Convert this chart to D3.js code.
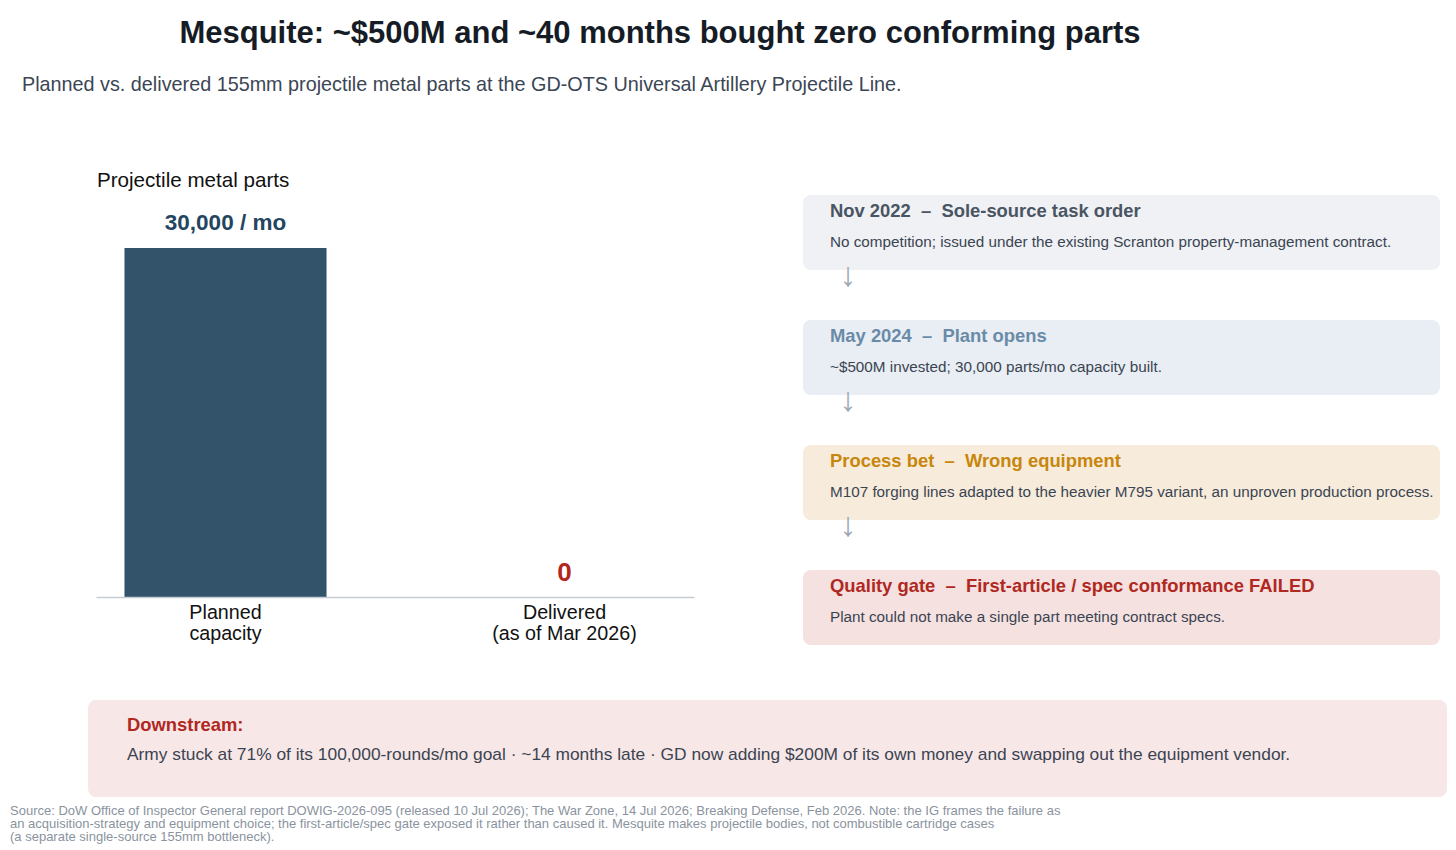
<!DOCTYPE html>
<html>
<head>
<meta charset="utf-8">
<script src="https://cdn.jsdelivr.net/npm/d3@7"></script>
<style>
  body { margin: 0; background: #fff; }
  svg { font-family: "Liberation Sans", Arial, sans-serif; display: block; }
</style>
</head>
<body>
<div id="chart"></div>
<script>
// data
var categories = ["Planned\ncapacity", "Delivered\n(as of Mar 2026)"];
var values = [30000, 0];
var valueLabels = ["30,000 / mo", "0"];

var stageWhen = ["Nov 2022", "May 2024", "Process bet", "Quality gate"];
var stageWhat = ["Sole-source task order", "Plant opens", "Wrong equipment", "First-article / spec conformance FAILED"];
var stageNote = [
  "No competition; issued under the existing Scranton property-management contract.",
  "~$500M invested; 30,000 parts/mo capacity built.",
  "M107 forging lines adapted to the heavier M795 variant, an unproven production process.",
  "Plant could not make a single part meeting contract specs."
];

var downstreamText = "Army stuck at 71% of its 100,000-rounds/mo goal \u00b7 ~14 months late \u00b7 GD now adding $200M of its own money and swapping out the equipment vendor.";
var sourceLines = [
  "Source: DoW Office of Inspector General report DOWIG-2026-095 (released 10 Jul 2026); The War Zone, 14 Jul 2026; Breaking Defense, Feb 2026. Note: the IG frames the failure as",
  "an acquisition-strategy and equipment choice; the first-article/spec gate exposed it rather than caused it. Mesquite makes projectile bodies, not combustible cartridge cases",
  "(a separate single-source 155mm bottleneck)."
];

var svgWidth = 1456;
var svgHeight = 850;

var svg = d3.select("#chart")
  .append("svg")
  .attr("width", svgWidth)
  .attr("height", svgHeight);

// title + subtitle
svg.append("text")
  .attr("x", 660)
  .attr("y", 43)
  .attr("text-anchor", "middle")
  .attr("font-size", "31px")
  .attr("font-weight", "bold")
  .attr("fill", "#161c26")
  .text("Mesquite: ~$500M and ~40 months bought zero conforming parts");

svg.append("text")
  .attr("x", 22)
  .attr("y", 91)
  .attr("font-size", "19.8px")
  .attr("fill", "#3b4654")
  .text("Planned vs. delivered 155mm projectile metal parts at the GD-OTS Universal Artillery Projectile Line.");

// bar chart
var chart = { left: 96, right: 694, top: 248, bottom: 597 };

svg.append("text")
  .attr("x", 97)
  .attr("y", 187)
  .attr("font-size", "20.6px")
  .attr("fill", "#111")
  .text("Projectile metal parts");

var x = d3.scaleBand()
  .domain(categories)
  .range([chart.left, chart.right])
  .paddingInner(0.404)
  .paddingOuter(0.084);

var y = d3.scaleLinear()
  .domain([0, d3.max(values)])
  .range([chart.bottom, chart.top]);

svg.selectAll("rect.bar")
  .data(values)
  .enter()
  .append("rect")
  .attr("class", "bar")
  .attr("x", (d, i) => x(categories[i]))
  .attr("y", d => y(d))
  .attr("width", x.bandwidth())
  .attr("height", d => y(0) - y(d))
  .attr("fill", "#33536b");

svg.selectAll("text.val")
  .data(values)
  .enter()
  .append("text")
  .attr("class", "val")
  .attr("x", (d, i) => x(categories[i]) + x.bandwidth() / 2)
  .attr("y", (d, i) => i === 0 ? y(d) - 18 : y(d) - 16)
  .attr("text-anchor", "middle")
  .attr("font-weight", "bold")
  .attr("font-size", (d, i) => i === 0 ? "22.5px" : "26px")
  .attr("fill", (d, i) => i === 0 ? "#24455f" : "#b3261e")
  .text((d, i) => valueLabels[i]);

var xAxis = svg.append("g")
  .attr("transform", `translate(0, ${chart.bottom})`)
  .call(d3.axisBottom(x).tickSize(0).tickFormat(""));
xAxis.select(".domain").attr("stroke", "#c5ccd4").attr("stroke-width", 1.5);

xAxis.selectAll(".tick")
  .append("text")
  .attr("text-anchor", "middle")
  .attr("font-size", "19.7px")
  .attr("fill", "#111")
  .selectAll("tspan")
  .data(d => d.split("\n"))
  .enter()
  .append("tspan")
  .attr("x", 0)
  .attr("y", (d, i) => 22 + i * 21)
  .text(d => d);

// timeline
var boxColors = ["#eff1f4", "#e8eef3", "#f7ecdc", "#f5e1e0"];
var headColors = ["#4a5563", "#6a8ba8", "#c8860d", "#b0281f"];
var boxX = 803, boxW = 637, boxH = 75, boxGap = 125, boxTop = 195;

var stages = svg.selectAll("g.stage")
  .data(stageWhen)
  .enter()
  .append("g")
  .attr("class", "stage")
  .attr("transform", (d, i) => `translate(${boxX}, ${boxTop + i * boxGap})`);

stages.append("rect")
  .attr("width", boxW)
  .attr("height", boxH)
  .attr("rx", 8)
  .attr("fill", (d, i) => boxColors[i]);

stages.append("text")
  .attr("x", 27)
  .attr("y", 22)
  .attr("font-size", "18.4px")
  .attr("font-weight", "bold")
  .attr("fill", (d, i) => headColors[i])
  .attr("xml:space", "preserve")
  .text((d, i) => d + "  \u2013  " + stageWhat[i]);

stages.append("text")
  .attr("x", 27)
  .attr("y", 52)
  .attr("font-size", "15.25px")
  .attr("fill", "#3b4452")
  .text((d, i) => stageNote[i]);

stages.filter((d, i) => i < stageWhen.length - 1)
  .append("text")
  .attr("x", 45)
  .attr("y", 91)
  .attr("text-anchor", "middle")
  .attr("font-size", "34px")
  .attr("fill", "#9ea9b6")
  .text("\u2193");

// downstream box
svg.append("rect")
  .attr("x", 88)
  .attr("y", 700)
  .attr("width", 1359)
  .attr("height", 97)
  .attr("rx", 8)
  .attr("fill", "#f7e7e7");

svg.append("text")
  .attr("x", 127)
  .attr("y", 731)
  .attr("font-size", "18.4px")
  .attr("font-weight", "bold")
  .attr("fill", "#b0281f")
  .text("Downstream:");

svg.append("text")
  .attr("x", 127)
  .attr("y", 760)
  .attr("font-size", "17.35px")
  .attr("fill", "#3b4452")
  .text(downstreamText);

// source note
svg.selectAll("text.src")
  .data(sourceLines)
  .enter()
  .append("text")
  .attr("class", "src")
  .attr("x", 10)
  .attr("y", (d, i) => 815 + i * 13)
  .attr("font-size", "13px")
  .attr("fill", "#8a939e")
  .text(d => d);
</script>
</body>
</html>
